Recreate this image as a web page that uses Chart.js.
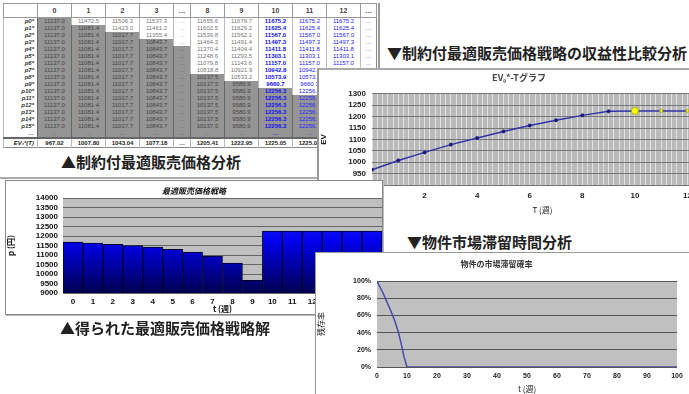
<!DOCTYPE html>
<html>
<head>
<meta charset="utf-8">
<script src="https://cdn.jsdelivr.net/npm/chart.js@4.4.1/dist/chart.umd.min.js"></script>
<style>
body{margin:0;width:689px;height:394px;overflow:hidden;background:#fff;position:relative;font-family:"Liberation Sans",Arial,sans-serif;}
.abs{position:absolute;}
#tbl{left:3px;top:3px;border-collapse:collapse;table-layout:fixed;border:1px solid #888;}
#tbl th{height:13px;font-size:7px;font-weight:bold;color:#444;border:1px solid #999;padding:0;}
#tbl td{height:7px;line-height:7px;font-size:6px;padding:0;text-align:center;white-space:nowrap;overflow:hidden;color:#777;border-left:1px solid #bbb;}
#tbl td.lab{font-style:italic;font-weight:bold;color:#333;text-align:right;padding-right:3px;}
#tbl td.g{background:#959595;color:#444;border-left:1px solid #666;}
#tbl td.b{color:#2222ff;}
#tbl td.bb{color:#1111ee;font-weight:bold;}
#tbl tr.ev td{height:8px;border-top:2px double #666;color:#222;font-weight:bold;background:#fff;}
.cap{font-family:"Noto Sans CJK JP",sans-serif;font-weight:bold;font-size:15px;line-height:18px;color:#222;white-space:nowrap;}
.rule{background:#aaa;height:2px;}
.panel{background:#fff;overflow:hidden;}
</style>
</head>
<body>
<table id="tbl" class="abs"></table>

<div class="abs rule" style="left:0;top:177px;width:317px;"></div>
<div class="abs cap" style="left:61px;top:153px;">▲制約付最適販売価格分析</div>

<div class="abs" style="left:378px;top:3px;width:2px;height:66px;background:#999;"></div>
<div class="abs cap" style="left:387px;top:44px;">▼制約付最適販売価格戦略の収益性比較分析</div>

<div class="abs panel" style="left:317px;top:68px;width:372px;height:150px;border-top:2px solid #aaa;border-left:2px solid #999;">
  <canvas id="evChart" width="400" height="145"></canvas>
</div>

<div class="abs cap" style="left:407px;top:233px;">▼物件市場滞留時間分析</div>

<div class="abs panel" style="left:5px;top:180px;width:376px;height:133px;border:1px solid #888;box-shadow:1px 1px 0 #bbb;">
  <canvas id="barChart" width="376" height="133"></canvas>
</div>
<div class="abs cap" style="left:60px;top:319px;">▲得られた最適販売価格戦略解</div>

<div class="abs panel" style="left:315px;top:252px;width:373px;height:141px;border:1px solid #999;">
  <canvas id="stayChart" width="373" height="141"></canvas>
</div>

<script>
// ---- table data ----
const colHeads = ['0', '1', '2', '3', '…', '8', '9', '10', '11', '12', '…'];
const rowLabels = ['p0*', 'p1*', 'p2*', 'p3*', 'p4*', 'p5*', 'p6*', 'p7*', 'p8*', 'p9*',
                   'p10*', 'p11*', 'p12*', 'p13*', 'p14*', 'p15*', '…'];
const optT10 = ['11675.2', '11625.4', '11567.0', '11497.3', '11411.8', '11303.1', '11157.0',
                '10942.8', '10573.9', '9660.7'];
// values above the staircase (white cells), per column
const colWhite = [
    [],
    ['11472.5'],
    ['11506.3', '11423.0'],
    ['11537.3', '11461.2', '11355.4'],
    ['…', '…', '…', '…'],
    ['11655.6', '11602.5', '11539.8', '11464.3', '11370.4', '11248.6', '11079.8', '10818.8'],
    ['11679.7', '11629.2', '11562.1', '11491.4', '11404.4', '11293.5', '11143.6', '10921.9', '10533.2'],
    optT10,
    optT10.concat(['12256.3']),
    optT10.concat(['12256.3', '12256.3']),
    ['…', '…', '…', '…', '…', '…', '…', '…', '…', '…', '…', '…', '…']
];
// repeated value in the gray (fixed) part
const colGray = ['11137.0', '11081.4', '11017.7', '10843.7', '…', '10137.5', '9580.9',
                 '12256.3', '12256.3', '12256.3', '…'];
const evRow = ['967.02', '1007.80', '1043.04', '1077.18', '…', '1205.41', '1222.95',
               '1225.05', '1225.05', '1225.05', '…'];

// ---- EV*-T chart data ----
const evT = [0, 1, 2, 3, 4, 5, 6, 7, 8, 9, 10, 11, 12];
const evValues = [967.02, 1007.80, 1043.04, 1077.18, 1106, 1135, 1161, 1184, 1205.41, 1222.95,
                  1225.05, 1225.05, 1225.05];

// ---- optimal price bar chart ----
const priceWeeks = ['0', '1', '2', '3', '4', '5', '6', '7', '8', '9', '10', '11', '12', '13', '14', '15'];
const priceValues = [11675.2, 11625.4, 11567.0, 11497.3, 11411.8, 11303.1, 11157.0, 10942.8,
                     10573.9, 9660.7, 12256.3, 12256.3, 12256.3, 12256.3, 12256.3, 12256.3];

// ---- stay probability chart ----
const stayT = [0, 1, 2, 3, 4, 5, 6, 7, 8, 9, 10, 100];
const stayRate = [1.00, 0.93, 0.86, 0.78, 0.70, 0.62, 0.53, 0.42, 0.28, 0.12, 0, 0];

// build table
const widths = [34, 34, 34, 34, 34, 17, 34, 34, 34, 34, 34, 16];
let html = '<colgroup>' + widths.map(w => `<col style="width:${w}px">`).join('') + '</colgroup>';
html += '<tr><th></th>' + colHeads.map(h => `<th>${h}</th>`).join('') + '</tr>';
rowLabels.forEach((lab, r) => {
    html += `<tr><td class="lab">${lab}</td>`;
    colHeads.forEach((h, c) => {
        const w = colWhite[c];
        let cls = r < w.length ? '' : 'g';
        if (c === 7) cls += ' bb';
        if (c > 7) cls += ' b';
        const txt = r === 16 ? '…' : (r < w.length ? w[r] : colGray[c]);
        html += `<td class="${cls}">${txt}</td>`;
    });
    html += '</tr>';
});
html += '<tr class="ev"><td class="lab">EV₀*(T)</td>' + evRow.map(v => `<td>${v}</td>`).join('') + '</tr>';
document.getElementById('tbl').innerHTML = html;

// plot background plugin
const plotBg = {
    id: 'plotBg',
    beforeDraw(chart, args, opts) {
        const a = chart.chartArea, ctx = chart.ctx;
        ctx.save();
        ctx.fillStyle = opts.color || '#c0c0c0';
        ctx.fillRect(a.left, a.top, a.right - a.left, a.bottom - a.top);
        ctx.restore();
    }
};

const numFont = {family: 'Liberation Sans', size: 8, weight: 'bold'};
const jpFont = {family: 'Noto Sans CJK JP', size: 8};

new Chart(document.getElementById('evChart'), {
    type: 'line',
    data: {
        labels: evT,
        datasets: [{
            data: evT.map((t, i) => ({x: t, y: evValues[i]})),
            borderColor: '#3333aa',
            borderWidth: 1.5,
            pointRadius: ctx => ctx.dataIndex === 10 ? 3.5 : 1.5,
            pointBackgroundColor: ctx => ctx.dataIndex >= 10 ? '#ffff00' : '#1a1a80',
            pointBorderColor: ctx => ctx.dataIndex >= 10 ? '#b0b000' : '#1a1a80',
            pointBorderWidth: 1
        }]
    },
    options: {
        responsive: false,
        animation: false,
        layout: {padding: 0},
        plugins: {
            legend: {display: false},
            tooltip: {enabled: false},
            plotBg: {color: '#bababa'},
            title: {display: true, text: 'EV₀*-Tグラフ', color: '#444', font: {family: 'Noto Sans CJK JP', size: 9}, padding: {top: 2, bottom: 11}}
        },
        scales: {
            x: {
                type: 'linear', min: 0, max: 12.97,
                ticks: {stepSize: 0.2, autoSkip: false, maxRotation: 0, color: '#222', font: numFont, padding: 6,
                        callback: v => (Math.abs(v - Math.round(v)) < 1e-6 && Math.round(v) % 2 === 0 && v <= 12) ? Math.round(v) : ''},
                grid: {color: 'rgba(255,255,255,0.6)', drawTicks: false},
                border: {display: false},
                title: {display: true, text: 'T (週)', color: '#222', font: jpFont, padding: 0},
                afterFit(s) { s.height = 30; }
            },
            y: {
                min: 900, max: 1300,
                ticks: {stepSize: 50, autoSkip: false, color: '#222', font: numFont, padding: 6,
                        callback: v => v === 900 ? '' : String(v)},
                grid: {color: '#777', drawTicks: false},
                border: {display: false},
                title: {display: true, text: 'EV', color: '#222', font: {family: 'Liberation Sans', size: 8, weight: 'bold'}, padding: 0},
                afterFit(s) { s.width = 53; }
            }
        }
    },
    plugins: [plotBg]
});

new Chart(document.getElementById('barChart'), {
    type: 'bar',
    data: {
        labels: priceWeeks,
        datasets: [{
            data: priceValues,
            backgroundColor: ctx => {
                const a = ctx.chart.chartArea;
                if (!a) return '#0000cc';
                const g = ctx.chart.ctx.createLinearGradient(0, a.top, 0, a.bottom);
                g.addColorStop(0, '#3a3aff');
                g.addColorStop(0.45, '#0000ee');
                g.addColorStop(1, '#000050');
                return g;
            },
            borderColor: '#00002a',
            borderWidth: 1,
            categoryPercentage: 1,
            barPercentage: 1
        }]
    },
    options: {
        responsive: false,
        animation: false,
        layout: {padding: 0},
        plugins: {
            legend: {display: false},
            tooltip: {enabled: false},
            plotBg: {color: '#bfbfbf'},
            title: {display: true, text: '最適販売価格戦略', color: '#111', font: {family: 'Noto Sans CJK JP', size: 8, weight: 'bold', style: 'italic'}, padding: {top: 5, bottom: 2.4}}
        },
        scales: {
            x: {
                ticks: {color: '#111', font: numFont, padding: 4, maxRotation: 0, autoSkip: false},
                grid: {display: false, drawTicks: false},
                border: {display: false},
                title: {display: true, text: 't (週)', color: '#111', font: {family: 'Noto Sans CJK JP', size: 8, weight: 'bold'}, padding: 0},
                afterFit(s) { s.height = 21; }
            },
            y: {
                min: 9000, max: 14000,
                ticks: {stepSize: 500, autoSkip: false, color: '#111', font: numFont, padding: 5,
                        callback: v => String(v)},
                grid: {color: '#666', drawTicks: false},
                border: {display: false},
                title: {display: true, text: 'p (円)', color: '#111', font: {family: 'Noto Sans CJK JP', size: 8, weight: 'bold'}, padding: 0},
                afterFit(s) { s.width = 57; }
            }
        }
    },
    plugins: [plotBg]
});

new Chart(document.getElementById('stayChart'), {
    type: 'line',
    data: {
        datasets: [{
            data: stayT.map((t, i) => ({x: t, y: stayRate[i]})),
            borderColor: '#4848a8',
            borderWidth: 1.5,
            pointRadius: 0
        }]
    },
    options: {
        responsive: false,
        animation: false,
        layout: {padding: {right: 12}},
        plugins: {
            legend: {display: false},
            tooltip: {enabled: false},
            plotBg: {color: '#c0c0c0'},
            title: {display: true, text: '物件の市場滞留確率', color: '#333', font: {family: 'Noto Sans CJK JP', size: 8}, padding: {top: 6, bottom: 12.4}}
        },
        scales: {
            x: {
                type: 'linear', min: 0, max: 100,
                ticks: {stepSize: 10, color: '#222', font: {family: 'Liberation Sans', size: 7, weight: 'bold'}, padding: 5, maxRotation: 0},
                grid: {display: false, drawTicks: false},
                border: {display: false},
                title: {display: true, text: 't (週)', color: '#222', font: jpFont, padding: 0},
                afterFit(s) { s.height = 27; }
            },
            y: {
                min: 0, max: 1,
                ticks: {stepSize: 0.2, color: '#222', font: {family: 'Liberation Sans', size: 7, weight: 'bold'}, padding: 6,
                        callback: v => Math.round(v * 100) + '%'},
                grid: {color: '#555', drawTicks: false},
                border: {display: false},
                title: {display: true, text: '残存率', color: '#222', font: jpFont, padding: 0},
                afterFit(s) { s.width = 61; }
            }
        }
    },
    plugins: [plotBg]
});
</script>
</body>
</html>
